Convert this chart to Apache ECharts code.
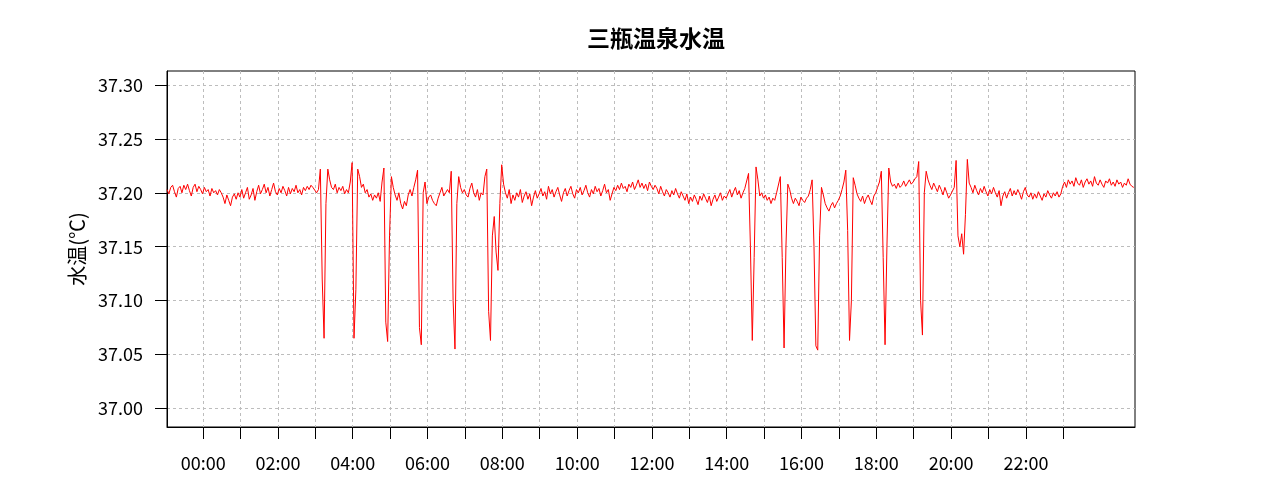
<!DOCTYPE html>
<html><head><meta charset="utf-8">
<script src="https://cdn.jsdelivr.net/npm/echarts@6/dist/echarts.min.js"></script>
<style>html,body{margin:0;padding:0;background:#fff}#c{width:1280px;height:500px}</style>
</head><body><div id="c"></div>
<script>
const chartTitle = '三瓶温泉水温';
const yAxisName = '水温(℃)';
// time axis in minutes from 00:00
const startMinute = -58;
const stepMinutes = 3;
const axisMinMinute = -58;
const axisMaxMinute = 1495;
const yMin = 36.9827;
const yMax = 37.313;
const yTicks = [37.00, 37.05, 37.10, 37.15, 37.20, 37.25, 37.30];
const hourTicks = [0,60,120,180,240,300,360,420,480,540,600,660,720,780,840,900,960,1020,1080,1140,1200,1260,1320,1380];
const hourLabels = [0,120,240,360,480,600,720,840,960,1080,1200,1320];
const temperature = [
37.203,37.199,37.205,37.207,37.201,37.196,37.204,37.206,
37.200,37.207,37.203,37.208,37.202,37.197,37.205,37.208,37.201,37.206,37.203,
37.199,37.205,37.201,37.203,37.197,37.204,37.200,37.202,37.198,37.203,37.200,37.196,
37.190,37.198,37.193,37.188,37.196,37.199,37.194,37.200,37.196,
37.203,37.195,37.200,37.205,37.194,37.198,37.204,37.193,37.201,37.207,37.199,
37.203,37.208,37.200,37.205,37.197,37.203,37.209,37.201,37.198,37.204,37.200,37.206,
37.202,37.197,37.205,37.199,37.204,37.201,37.207,37.200,37.203,37.198,37.205,37.202,
37.206,37.203,37.207,37.205,37.204,37.200,37.203,
37.222,37.120,37.065,37.190,37.222,
37.212,37.205,37.203,37.208,37.200,37.205,37.202,37.206,37.199,37.203,37.200,
37.210,37.228,37.065,37.110,37.222,37.215,
37.205,37.208,37.200,37.203,37.196,37.199,37.193,37.198,37.195,37.200,37.192,
37.210,37.223,37.080,37.062,37.160,37.215,
37.205,37.198,37.193,37.200,37.190,37.185,37.192,37.188,37.198,37.203,37.197,37.205,
37.212,37.221,37.075,37.059,37.200,37.210,
37.190,37.196,37.198,37.193,37.190,37.188,37.195,37.200,37.205,37.197,37.200,37.203,
37.200,37.220,37.100,37.055,37.190,37.215,
37.205,37.200,37.203,37.198,37.196,37.204,37.209,37.200,37.196,37.203,37.193,37.200,37.198,
37.215,37.222,37.090,37.063,37.160,37.178,37.145,37.128,37.190,37.226,37.208,
37.200,37.195,37.203,37.190,37.198,37.193,37.200,37.196,37.203,37.191,37.197,37.201,37.194,37.199,37.188,37.196,37.202,37.195,37.199,
37.204,37.197,37.201,37.194,37.206,37.199,37.203,37.196,37.201,37.205,37.198,37.192,37.200,37.204,37.197,37.202,37.206,37.199,37.195,37.203,37.200,
37.205,37.198,37.202,37.207,37.200,37.196,37.203,37.199,37.206,37.201,37.204,37.197,37.202,37.208,37.200,37.203,37.193,37.199,37.205,37.202,
37.207,37.203,37.209,37.204,37.206,37.201,37.208,37.205,37.210,37.203,37.207,37.212,37.205,37.209,37.204,37.208,37.202,37.210,37.206,37.203,37.207,
37.204,37.199,37.206,37.201,37.197,37.203,37.200,37.196,37.202,37.198,37.204,37.199,37.195,37.201,37.197,37.193,37.199,37.190,
37.196,37.192,37.198,37.194,37.189,37.197,37.193,37.199,37.195,37.191,37.197,37.188,37.194,37.198,37.192,37.196,37.200,37.193,37.197,37.195,37.199,
37.203,37.196,37.201,37.205,37.198,37.202,37.195,37.200,37.204,
37.205,37.218,37.150,37.063,37.140,37.224,37.212,37.197,
37.200,37.195,37.198,37.193,37.196,37.190,37.195,37.193,37.200,
37.200,37.215,37.140,37.056,37.150,37.208,37.203,
37.195,37.190,37.195,37.192,37.188,37.196,37.193,37.191,37.195,37.197,
37.203,37.212,37.150,37.058,37.054,37.160,37.205,
37.198,37.190,37.186,37.183,37.188,37.191,37.186,37.190,37.193,37.197,37.203,
37.210,37.221,37.165,37.063,37.100,37.214,37.207,
37.199,37.195,37.192,37.197,37.190,37.195,37.198,37.193,37.189,37.197,37.200,37.205,37.210,
37.220,37.140,37.059,37.150,37.223,37.210,
37.206,37.208,37.204,37.209,37.205,37.207,37.211,37.206,37.209,37.212,37.208,37.210,37.213,
37.215,37.229,37.100,37.068,37.200,37.220,37.212,
37.207,37.203,37.209,37.205,37.201,37.207,37.203,37.198,37.205,37.200,37.195,37.198,
37.197,37.205,37.230,37.160,37.150,37.162,37.143,37.180,37.231,37.209,
37.205,37.200,37.207,37.202,37.198,37.204,37.200,37.206,37.201,37.197,37.203,37.199,37.205,37.200,37.196,37.202,
37.188,37.197,37.201,37.195,37.200,37.204,37.197,37.202,37.198,37.203,37.199,37.194,37.201,37.205,37.198,
37.196,37.200,37.194,37.199,37.195,37.201,37.197,37.193,37.199,37.196,37.202,37.198,37.195,37.200,37.197,37.201,37.196,37.199,
37.206,37.210,37.205,37.212,37.208,37.211,37.206,37.214,37.209,37.207,37.212,37.205,37.210,37.213,37.208,37.211,37.206,37.215,37.209,37.207,
37.212,37.208,37.205,37.211,37.209,37.213,37.207,37.210,37.206,37.212,37.208,37.210,37.205,37.209,37.207,37.213,37.208,37.206,37.205
];

const seriesData = temperature.map((v, i) => [startMinute + i * stepMinutes, v]);
const pad = n => String(n).padStart(2, '0');
const fmtTime = m => pad(Math.floor(m / 60)) + ':' + pad(Math.round(m % 60));

const labelFont = '"Noto Sans CJK JP", sans-serif';
const gridStyle = { color: '#bdbdbd', width: 1, type: [3, 3] };

const chart = echarts.init(document.getElementById('c'), null, { renderer: 'canvas' });
chart.setOption({
  animation: false,
  backgroundColor: '#fff',
  title: {
    text: chartTitle, left: 651, top: 22, textAlign: 'center',
    textStyle: { fontFamily: labelFont, fontSize: 23, fontWeight: 'bold', color: '#000' }
  },
  grid: { left: 167, right: 145, top: 71, bottom: 73, show: true, borderColor: '#000', borderWidth: 1, containLabel: false },
  xAxis: {
    type: 'value', min: axisMinMinute, max: axisMaxMinute,
    axisLine: { show: true, onZero: false, lineStyle: { color: '#000', width: 1 } },
    axisTick: { show: true, length: 12, customValues: hourTicks, lineStyle: { color: '#000' } },
    axisLabel: { customValues: hourLabels, formatter: v => fmtTime(v), margin: 27, color: '#000', fontFamily: labelFont, fontSize: 18 },
    splitLine: { show: true, lineStyle: gridStyle }
  },
  yAxis: {
    type: 'value', min: yMin, max: yMax,
    name: yAxisName, nameLocation: 'middle', nameGap: 73, nameRotate: 90,
    nameTextStyle: { fontFamily: labelFont, fontSize: 20, color: '#000' },
    axisLine: { show: true, onZero: false, lineStyle: { color: '#000', width: 1 } },
    axisTick: { show: true, length: 12, customValues: yTicks, lineStyle: { color: '#000' } },
    axisLabel: { customValues: yTicks, formatter: v => v.toFixed(2), margin: 24, color: '#000', fontFamily: labelFont, fontSize: 18 },
    splitLine: { show: true, lineStyle: gridStyle }
  },
  series: [{
    type: 'line', data: seriesData, showSymbol: false, symbol: 'none',
    lineStyle: { color: '#ff0000', width: 1 }, itemStyle: { color: '#ff0000' },
    clip: true
  }]
});
</script>
</body></html>
